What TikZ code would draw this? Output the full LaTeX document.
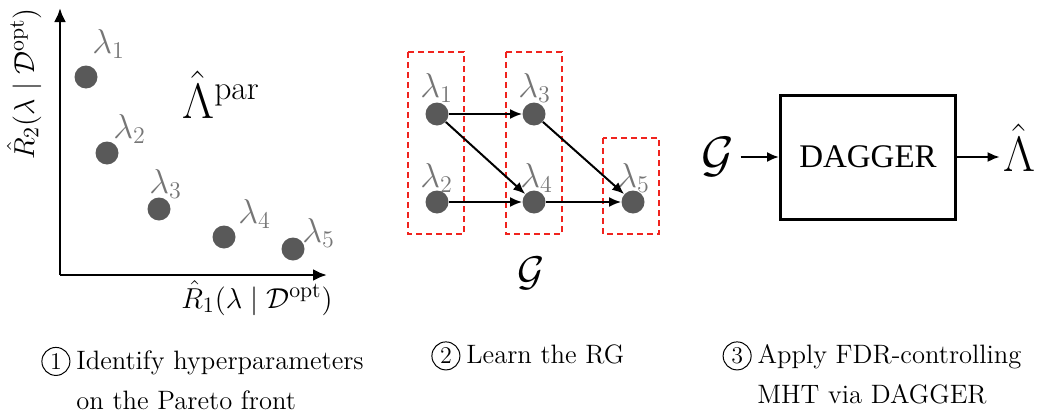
\documentclass[tikz,border=0pt]{standalone}
\usepackage{amsmath,amssymb}
\usepackage{fontspec}
\usepackage{tikz}
\usetikzlibrary{arrows.meta,positioning}
\newfontfamily\timesfont{Liberation Serif}
\definecolor{dotgray}{RGB}{89,89,89}
\definecolor{labgray}{RGB}{118,118,118}
\definecolor{boxred}{RGB}{240,35,30}
\newcommand{\circnum}[1]{\tikz[baseline=(c.base)]\node[draw,circle,anchor=base,inner sep=0pt,minimum size=14pt,line width=0.5pt,font=\fontsize{12}{14}\selectfont] (c) {#1};}

\begin{document}
\begin{tikzpicture}[
  x=0.5pt,y=-0.5pt,
  dot/.style={circle,fill=dotgray,inner sep=0pt,minimum size=11.5pt},
  lab/.style={text=labgray,font=\fontsize{17.5}{20}\selectfont,inner sep=0pt,anchor=base west},
  axis/.style={-{Latex[length=7pt,width=6pt]},line width=1.4pt},
  arrow/.style={-{Latex[length=6pt,width=5pt]},line width=1pt},
  group/.style={draw=boxred,line width=1pt,dash pattern=on 3pt off 2pt},
  caption/.style={font=\fontsize{13.3}{20}\selectfont,inner sep=0pt}
]
\useasboundingbox (0,0) rectangle (1038,412);

% pareto front
\coordinate (origin) at (60,275);
\coordinate (ytip) at (60,8);
\coordinate (xtip) at (327,275);
\draw[axis] (origin) -- (ytip);
\draw[axis] (origin) -- (xtip);
\node[rotate=90,font=\fontsize{15.5}{18}\selectfont] (ylab) at (24,84) {$\hat{R}_2(\lambda\mid\mathcal{D}^{\mathrm{opt}})$};
\node[font=\fontsize{15.5}{18}\selectfont] (xlab) at (257,298) {$\hat{R}_1(\lambda\mid\mathcal{D}^{\mathrm{opt}})$};
\node[dot] (p1) at (86,77) {};
\node[dot] (p2) at (107,153) {};
\node[dot] (p3) at (159,209) {};
\node[dot] (p4) at (224,237) {};
\node[dot] (p5) at (293,249) {};
\node[lab] (pl1) at (92,53) {$\lambda_1$};
\node[lab] (pl2) at (113,138) {$\lambda_2$};
\node[lab] (pl3) at (149,193) {$\lambda_3$};
\node[lab] (pl4) at (238,223) {$\lambda_4$};
\node[lab] (pl5) at (302,242) {$\lambda_5$};
\node[font=\fontsize{24}{28}\selectfont,inner sep=0pt,anchor=base west] (lampar) at (182,118) {$\hat{\Lambda}^{\mathrm{par}}$};

% rejection graph
\draw[group] (408,52) rectangle (464,234);
\draw[group] (506,52) rectangle (562,234);
\draw[group] (603,138) rectangle (659,234);
\node[dot] (g1) at (437,114) {};
\node[dot] (g2) at (437,202) {};
\node[dot] (g3) at (534,114) {};
\node[dot] (g4) at (534,202) {};
\node[dot] (g5) at (633,202) {};
\node[lab] (gl1) at (420,97) {$\lambda_1$};
\node[lab] (gl2) at (420,187) {$\lambda_2$};
\node[lab] (gl3) at (518,97) {$\lambda_3$};
\node[lab] (gl4) at (520,187) {$\lambda_4$};
\node[lab] (gl5) at (617,187) {$\lambda_5$};
\draw[arrow] (g1) -- (g3);
\draw[arrow] (g1) -- (g4);
\draw[arrow] (g2) -- (g4);
\draw[arrow] (g3) -- (g5);
\draw[arrow] (g4) -- (g5);
\node[font=\fontsize{22}{26}\selectfont] (graph) at (531,273) {$\mathcal{G}$};

% dagger
\node[draw,line width=1.5pt,minimum width=87.5pt,minimum height=62pt,font=\timesfont\fontsize{16.5}{20}\selectfont] (dagger) at (868,157) {DAGGER};
\node[font=\fontsize{23}{26}\selectfont,inner sep=3pt] (gin) at (718,157) {$\mathcal{G}$};
\node[font=\fontsize{25}{28}\selectfont,inner sep=1.5pt] (lamout) at (1019,148) {$\hat{\Lambda}$};
\draw[arrow] (gin.east |- dagger) -- (dagger.west);
\draw[arrow] (dagger.east) -- (dagger.east -| lamout.west);

% captions
\node[caption,anchor=north west] (cap1) at (41,341) {\begin{tabular}{@{}l@{\hspace{3pt}}l@{}}\circnum{1} & Identify hyperparameters\\ & on the Pareto front\end{tabular}};
\node[caption,anchor=north west] (cap2) at (431,341) {\circnum{2}\hspace{3pt}Learn the RG};
\node[caption,anchor=north,align=center] (cap3) at (872,341) {\circnum{3}\hspace{3pt}Apply FDR-controlling\\MHT via DAGGER};
\end{tikzpicture}
\end{document}
